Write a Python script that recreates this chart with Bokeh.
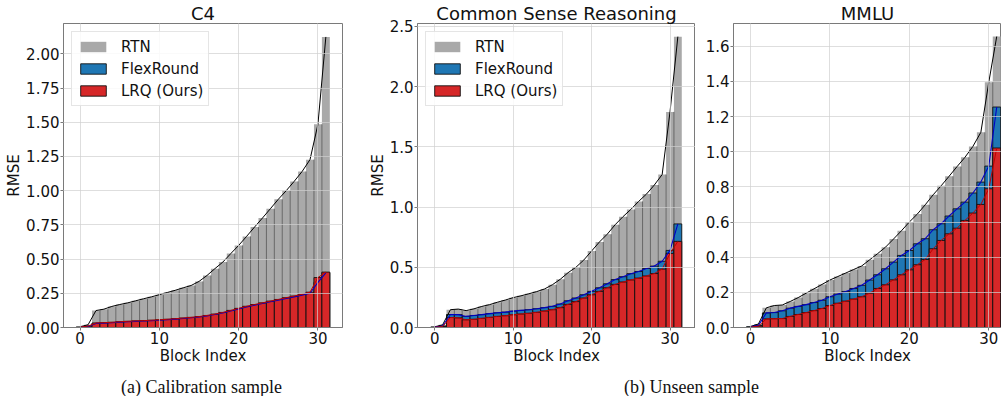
import numpy as np
from bokeh.plotting import figure
from bokeh.layouts import row, column
from bokeh.models import (Range1d, FixedTicker, PrintfTickFormatter, Label,
                          Legend, LegendItem, ColumnDataSource)
from bokeh.embed import file_html
from bokeh.resources import INLINE

# ---------------- data ----------------
block_index = list(range(32))
x_ticks = [0, 10, 20, 30]

c4_rtn = [0.006, 0.02, 0.124, 0.134, 0.154, 0.168, 0.18, 0.195, 0.21, 0.224, 0.24, 0.256,
          0.272, 0.29, 0.307, 0.337, 0.38, 0.43, 0.478, 0.54, 0.6, 0.666, 0.734, 0.8,
          0.868, 0.937, 1.0, 1.068, 1.14, 1.227, 1.485, 2.124]
c4_flexround = [0.002, 0.008, 0.03, 0.032, 0.035, 0.039, 0.042, 0.045, 0.047, 0.05, 0.053,
                0.057, 0.061, 0.066, 0.071, 0.077, 0.085, 0.095, 0.107, 0.121, 0.136, 0.15,
                0.163, 0.175, 0.188, 0.2, 0.212, 0.224, 0.236, 0.25, 0.33, 0.4]
c4_lrq = [0.003, 0.01, 0.033, 0.035, 0.038, 0.042, 0.045, 0.048, 0.05, 0.053, 0.056, 0.06,
          0.064, 0.069, 0.074, 0.08, 0.088, 0.098, 0.11, 0.125, 0.14, 0.155, 0.168, 0.18,
          0.193, 0.205, 0.218, 0.23, 0.243, 0.258, 0.365, 0.405]

csr_rtn = [0.006, 0.022, 0.148, 0.153, 0.14, 0.155, 0.175, 0.19, 0.21, 0.228, 0.248, 0.263,
           0.28, 0.298, 0.32, 0.355, 0.4, 0.455, 0.5, 0.56, 0.635, 0.71, 0.775, 0.853,
           0.92, 0.98, 1.047, 1.108, 1.183, 1.27, 1.79, 2.415]
csr_flexround = [0.004, 0.012, 0.108, 0.107, 0.092, 0.1, 0.107, 0.115, 0.122, 0.128, 0.136,
                 0.142, 0.148, 0.156, 0.165, 0.176, 0.195, 0.222, 0.245, 0.272, 0.3, 0.33,
                 0.363, 0.398, 0.422, 0.447, 0.465, 0.49, 0.51, 0.55, 0.64, 0.86]
csr_lrq = [0.002, 0.008, 0.083, 0.08, 0.064, 0.068, 0.076, 0.084, 0.092, 0.098, 0.106, 0.112,
           0.118, 0.126, 0.137, 0.148, 0.165, 0.192, 0.215, 0.245, 0.272, 0.3, 0.33, 0.358,
           0.378, 0.395, 0.41, 0.428, 0.448, 0.485, 0.615, 0.715]

mmlu_rtn = [0.006, 0.02, 0.112, 0.125, 0.128, 0.148, 0.17, 0.195, 0.22, 0.245, 0.27, 0.29,
            0.31, 0.33, 0.35, 0.385, 0.42, 0.457, 0.503, 0.55, 0.6, 0.645, 0.698, 0.755,
            0.806, 0.86, 0.915, 0.968, 1.03, 1.11, 1.395, 1.655]
mmlu_flexround = [0.004, 0.012, 0.083, 0.085, 0.095, 0.11, 0.12, 0.13, 0.142, 0.155, 0.175,
                  0.19, 0.205, 0.222, 0.24, 0.27, 0.3, 0.334, 0.372, 0.41, 0.438, 0.476,
                  0.505, 0.556, 0.59, 0.634, 0.675, 0.713, 0.765, 0.827, 0.918, 1.254]
mmlu_lrq = [0.002, 0.008, 0.049, 0.05, 0.051, 0.063, 0.074, 0.085, 0.096, 0.108, 0.125,
            0.138, 0.15, 0.162, 0.175, 0.195, 0.222, 0.243, 0.271, 0.3, 0.328, 0.357, 0.387,
            0.448, 0.495, 0.533, 0.565, 0.609, 0.651, 0.7, 0.789, 1.021]

c4_yticks = [0.0, 0.25, 0.5, 0.75, 1.0, 1.25, 1.5, 1.75, 2.0]
csr_yticks = [0.0, 0.5, 1.0, 1.5, 2.0, 2.5]
mmlu_yticks = [0.0, 0.2, 0.4, 0.6, 0.8, 1.0, 1.2, 1.4, 1.6]

titles = ["C4", "Common Sense Reasoning", "MMLU"]
series_names = ["RTN", "FlexRound", "LRQ (Ours)"]
captions = ["(a) Calibration sample", "(b) Unseen sample"]

# ---------------- style ----------------
FONT = "DejaVu Sans"
GRAY, BLUE, RED = "#a9a9a9", "#1f77b4", "#d62728"
FRAME = "#7a7a7a"
FRAME_H = 304


def make_panel(title, rtn, flex, lrq, x_range, y_end, yticks, yfmt,
               frame_w, left, right, ylabel, legend, title_shift=0):
    p = figure(frame_width=frame_w, frame_height=FRAME_H, title=title,
               x_range=Range1d(*x_range), y_range=Range1d(0, y_end),
               output_backend="svg", toolbar_location=None,
               min_border_left=left, min_border_right=right,
               min_border_top=23, min_border_bottom=40)
    p.title.align = "center"
    p.title.text_font = FONT
    p.title.text_font_size = "18px"
    p.title.text_font_style = "normal"
    p.title.text_color = "#111111"
    p.title.standoff = 0
    p.title.offset = title_shift

    x = np.array(block_index, dtype=float)
    src = ColumnDataSource(dict(x=x, rtn=rtn, flex=flex, lrq=lrq))
    r_rtn = p.vbar(x="x", top="rtn", width=1.0, source=src,
                   fill_color=GRAY, line_color=None)
    rt = np.array(rtn)
    p.segment(x0=x[:-1] + 0.5, y0=np.zeros(len(x) - 1), x1=x[:-1] + 0.5,
              y1=np.minimum(rt[:-1], rt[1:]), line_color="#666666", line_width=1)
    r_flex = p.vbar(x="x", top="flex", width=1.0, source=src, fill_color=BLUE,
                    line_color="#111111", line_width=0.9)
    r_lrq = p.vbar(x="x", top="lrq", width=1.0, source=src, fill_color=RED,
                   line_color="#111111", line_width=0.9)
    p.line("x", "rtn", source=src, line_color="black", line_width=1)
    p.line("x", "flex", source=src, line_color="#0000c8", line_width=1.1)
    p.line("x", "lrq", source=src, line_color="#c00000", line_width=1)

    p.xaxis.ticker = FixedTicker(ticks=x_ticks)
    p.yaxis.ticker = FixedTicker(ticks=yticks)
    p.yaxis.formatter = PrintfTickFormatter(format=yfmt)
    p.xaxis.axis_label = "Block Index"
    if ylabel:
        p.yaxis.axis_label = "RMSE"
    for ax in (p.xaxis, p.yaxis):
        ax.major_label_text_font = FONT
        ax.major_label_text_font_size = "15px"
        ax.major_label_text_color = "#111111"
        ax.axis_label_text_font = FONT
        ax.axis_label_text_font_size = "15px"
        ax.axis_label_text_font_style = "normal"
        ax.axis_label_text_color = "#111111"
        ax.axis_label_standoff = 0
        ax.minor_tick_line_color = None
        ax.major_tick_in = 0
        ax.major_tick_out = 3
        ax.major_tick_line_color = FRAME
        ax.axis_line_color = FRAME
    p.xaxis.major_label_standoff = 1
    p.yaxis.major_label_standoff = 1
    p.outline_line_color = FRAME
    p.grid.grid_line_color = "#d0d0d0"
    p.grid.grid_line_alpha = 0.7
    p.grid.level = "guide"
    p.xgrid.ticker = FixedTicker(ticks=x_ticks)
    p.ygrid.ticker = FixedTicker(ticks=yticks)

    if legend:
        leg = Legend(items=[LegendItem(label=series_names[0], renderers=[r_rtn]),
                            LegendItem(label=series_names[1], renderers=[r_flex]),
                            LegendItem(label=series_names[2], renderers=[r_lrq])],
                     location="top_left")
        leg.label_text_font = FONT
        leg.label_text_font_size = "15px"
        leg.label_text_color = "#111111"
        leg.glyph_width = 32
        leg.glyph_height = 13
        leg.label_height = 19
        leg.label_standoff = 12
        leg.padding = 5
        leg.spacing = 3
        leg.margin = 8
        leg.border_line_color = "#cccccc"
        leg.background_fill_alpha = 0.85
        p.add_layout(leg)
    return p


p1 = make_panel(titles[0], c4_rtn, c4_flexround, c4_lrq, (-2.1, 33.1), 2.222,
                c4_yticks, "%.2f", 279, 63, 20, True, True)
p2 = make_panel(titles[1], csr_rtn, csr_flexround, csr_lrq, (-2.2, 33.25), 2.524,
                csr_yticks, "%.1f", 278, 55, 0, True, True)
p3 = make_panel(titles[2], mmlu_rtn, mmlu_flexround, mmlu_lrq, (-2.14, 31.6), 1.729,
                mmlu_yticks, "%.1f", 268, 38, 0, False, False, title_shift=6)

CAP_W, CAP_H = 1001, 29
cap = figure(width=CAP_W, height=CAP_H, x_range=Range1d(0, CAP_W), y_range=Range1d(0, CAP_H),
             output_backend="svg", toolbar_location=None, min_border=0,
             x_axis_location=None, y_axis_location=None, outline_line_color=None)
cap.grid.visible = False
cap.add_layout(Label(x=201, y=10, text=captions[0], text_align="center",
                     text_baseline="alphabetic", text_font="Liberation Serif",
                     text_font_size="18px", text_color="#111111"))
cap.add_layout(Label(x=691, y=10, text=captions[1], text_align="center",
                     text_baseline="alphabetic", text_font="Liberation Serif",
                     text_font_size="18px", text_color="#111111"))

layout = column(row(p1, p2, p3, spacing=0), cap, spacing=0)
open("out.html", "w").write(file_html(layout, INLINE))
